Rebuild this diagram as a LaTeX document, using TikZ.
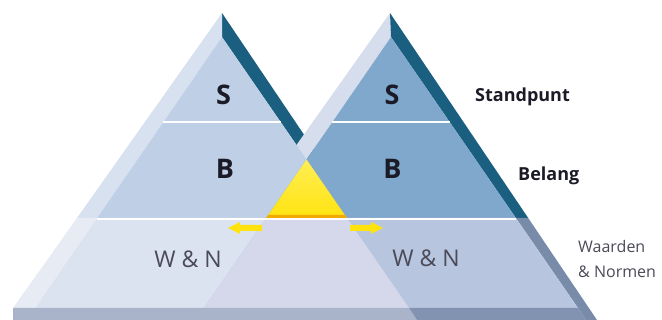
\documentclass[tikz,border=0pt]{standalone}
\usepackage{fontspec}
\setmainfont{Open Sans}
\usetikzlibrary{positioning}
\definecolor{facel}{HTML}{BFCFE6}
\definecolor{facer}{HTML}{80A8CC}
\definecolor{wnl}{HTML}{DCE3F0}
\definecolor{wnr}{HTML}{B7C5DF}
\definecolor{wnmid}{HTML}{D4D8EA}
\definecolor{bevl}{HTML}{D8E1EF}
\definecolor{bevlow}{HTML}{E7EBF4}
\definecolor{bevr}{HTML}{D6DEED}
\definecolor{ridge}{HTML}{1B5F80}
\definecolor{ridgelow}{HTML}{788CAA}
\definecolor{bandl}{HTML}{A9B4CA}
\definecolor{bandr}{HTML}{8193B0}
\definecolor{geel}{HTML}{FFE30F}
\definecolor{geeltop}{HTML}{FFEE55}
\definecolor{oranje}{HTML}{F2AA00}
\definecolor{inkdark}{HTML}{1B1B28}
\definecolor{inkgray}{HTML}{4A4A58}
\begin{document}
\begin{tikzpicture}[x=1pt, y=-1pt,
    lyr/.style={font=\bfseries\fontsize{27}{27}\selectfont, text=inkdark},
    wn/.style={font=\fontsize{23}{23}\selectfont, text=inkgray},
    side/.style={font=\bfseries\fontsize{18}{18}\selectfont, text=inkdark, anchor=base west, inner sep=0pt},
    sidethin/.style={font=\fontsize{16}{16}\selectfont, text=inkgray, anchor=base west, inner sep=0pt}]
  \useasboundingbox (0,0) rectangle (662,320);
  % outer edges (bevels and ridges)
  \fill[ridge] (222,13) -- (222,37) -- (334.5,200) -- (348,200) -- cycle;
  \fill[bevl] (222,13) -- (222,37) -- (97.1,218) -- (77,218) -- cycle;
  \fill[bevlow] (77,218) -- (97.1,218) -- (35,308) -- (13,308) -- cycle;
  \fill[bevr] (390,13) -- (391,37) -- (204,308) -- (181,308) -- cycle;
  \fill[ridge] (390,13) -- (391,37) -- (515.9,218) -- (528.2,218) -- cycle;
  \fill[ridgelow] (515.9,218) -- (528.2,218) -- (597,320) -- (586,320) -- (578,308) -- cycle;
  % left pyramid
  \fill[facel] (222,37) -- (163.4,122) -- (280.6,122) -- cycle;
  \fill[facel] (163.4,122) -- (97.1,218) -- (346.9,218) -- (280.6,122) -- cycle;
  \fill[wnl] (97.1,218) -- (35,308) -- (409,308) -- (346.9,218) -- cycle;
  % right pyramid
  \fill[facer] (391,37) -- (332.4,122) -- (449.7,122) -- cycle;
  \fill[facer] (332.4,122) -- (266.1,218) -- (515.9,218) -- (449.7,122) -- cycle;
  \fill[wnr] (266.1,218) -- (204,308) -- (578,308) -- (515.9,218) -- cycle;
  % overlap
  \fill[wnmid] (266.1,218) -- (204,308) -- (409,308) -- (346.9,218) -- cycle;
  \shade[top color=geeltop, bottom color=geel] (306.5,159.5) -- (266.1,218) -- (346.9,218) -- cycle;
  \fill[oranje] (268.4,215) -- (266.1,218) -- (346.9,218) -- (344.6,215) -- cycle;
  % base
  \fill[bandl] (13,308) -- (409,308) -- (417,320) -- (13,320) -- cycle;
  \fill[bandr] (409,308) -- (578,308) -- (586,320) -- (417,320) -- cycle;
  % separators
  \draw[white, line width=2pt] (163.4,122) -- (280.6,122) (332.4,122) -- (449.7,122);
  \draw[white, line width=2pt] (97.1,219) -- (515.9,219);
  % small arrows
  \fill[geel] (228,228) -- (240,222) -- (240,225) -- (262,225) -- (262,231) -- (240,231) -- (240,234) -- cycle;
  \fill[geel] (383,228) -- (371,222) -- (371,225) -- (350,225) -- (350,231) -- (371,231) -- (371,234) -- cycle;
  % labels
  \node[lyr] (sleft) at (223.5,95) {S};
  \node[lyr] (bleft) at (225,169) {B};
  \node[wn] (wnleft) at (188,259) {W \& N};
  \node[lyr] (sright) at (392,95) {S};
  \node[lyr] (bright) at (392.5,169) {B};
  \node[wn] (wnright) at (426,258) {W \& N};
  \node[side] (standpunt) at (475,102) {Standpunt};
  \node[side] (belang) at (518,181) {Belang};
  \node[sidethin] (waarden) at (578,253) {Waarden};
  \node[sidethin, below=25pt of waarden.base west, anchor=base west] (normen) {\& Normen};
\end{tikzpicture}
\end{document}
